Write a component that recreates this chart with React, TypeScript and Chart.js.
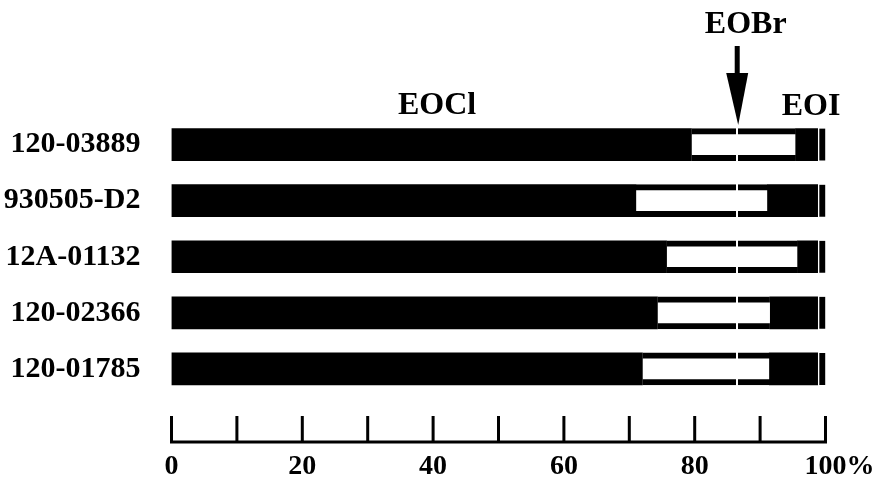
import React, { useEffect, useRef } from "react";
import { Chart, registerables } from "chart.js";

Chart.register(...registerables);

const categories = ["120-03889", "930505-D2", "12A-01132", "120-02366", "120-01785"];
const eoclValues = [79.5, 71.0, 75.7, 74.3, 72.0];
const eobrValues = [15.9, 20.1, 20.0, 17.2, 19.4];
const eoiValues = [3.4, 7.7, 3.1, 7.3, 7.4];
const restValues = [1.2, 1.2, 1.2, 1.2, 1.2];
const xTickValues = [0, 10, 20, 30, 40, 50, 60, 70, 80, 90, 100];
const xLabelValues = [0, 20, 40, 60, 80, 100];
const markerValue = 86.5;
const seriesLabels = ["EOCl", "EOBr", "EOI"];
const seriesLabelValues = [40.6, 87.8, 97.8];

const FONT = '"Liberation Serif", "Times New Roman", serif';

const overlayPlugin = {
  id: "overlay",
  afterDatasetsDraw(chart: any) {
    const ctx = chart.ctx;
    const xs = chart.scales.x;
    const area = chart.chartArea;
    ctx.save();
    // white marker line through bars
    const mx = xs.getPixelForValue(markerValue);
    ctx.fillStyle = "#fff";
    ctx.fillRect(Math.round(mx) - 1, area.top, 2, area.bottom - area.top);
    // arrow
    ctx.fillStyle = "#000";
    ctx.fillRect(mx - 2.5, 46, 5, 32);
    ctx.beginPath();
    ctx.moveTo(mx - 11, 73);
    ctx.lineTo(mx + 11, 73);
    ctx.lineTo(mx + 1, 125);
    ctx.closePath();
    ctx.fill();
    // series labels
    ctx.font = `bold 32px ${FONT}`;
    ctx.textAlign = "center";
    ctx.textBaseline = "alphabetic";
    ctx.fillText(seriesLabels[0], xs.getPixelForValue(seriesLabelValues[0]), 114);
    ctx.fillText(seriesLabels[1], xs.getPixelForValue(seriesLabelValues[1]), 33);
    ctx.fillText(seriesLabels[2], xs.getPixelForValue(seriesLabelValues[2]), 115);
    // axis line and ticks
    const axisY = 442;
    const x0 = xs.getPixelForValue(0);
    const x1 = xs.getPixelForValue(100);
    ctx.fillRect(x0 - 1.5, axisY - 1.5, x1 - x0 + 3, 3);
    xTickValues.forEach((v) => {
      const px = xs.getPixelForValue(v);
      ctx.fillRect(px - 1.5, 416, 3, axisY - 416);
    });
    ctx.restore();
  },
};

export default function App() {
  const ref = useRef<HTMLCanvasElement>(null);
  useEffect(() => {
    if (!ref.current) return;
    const chart = new Chart(ref.current, {
      type: "bar",
      data: {
        labels: categories,
        datasets: [
          {
            label: "EOCl",
            data: eoclValues,
            backgroundColor: "#000",
            borderWidth: 0,
            barThickness: 32,
          },
          {
            label: "EOBr",
            data: eobrValues,
            backgroundColor: "#fff",
            borderColor: "#000",
            borderWidth: { top: 6, bottom: 6, left: 0, right: 0 },
            borderSkipped: false,
            barThickness: 32,
          },
          {
            label: "EOI",
            data: eoiValues,
            backgroundColor: "#000",
            borderWidth: 0,
            barThickness: 32,
          },
          {
            label: "rest",
            data: restValues,
            backgroundColor: "#000",
            borderColor: "#fff",
            borderWidth: { left: 2, top: 0, bottom: 0, right: 0 },
            borderSkipped: false,
            barThickness: 32,
          },
        ] as any,
      },
      options: {
        indexAxis: "y",
        animation: false,
        responsive: false,
        layout: { padding: { top: 116.5, right: 52.5, bottom: 0, left: 0 } },
        plugins: { legend: { display: false }, tooltip: { enabled: false } },
        scales: {
          x: {
            stacked: true,
            min: 0,
            max: 100,
            border: { display: false },
            grid: { display: false, drawTicks: false },
            afterBuildTicks: (scale: any) => {
              scale.ticks = xLabelValues.map((v) => ({ value: v }));
            },
            afterFit: (scale: any) => {
              scale.height = 84;
              scale.paddingLeft = 0;
              scale.paddingRight = 0;
            },
            ticks: {
              autoSkip: false,
              maxRotation: 0,
              padding: 53,
              color: "#000",
              font: { family: FONT, size: 28, weight: "bold" },
              callback: (v: any) => (v === 100 ? "\u2002\u2002100%" : String(v)),
            },
          },
          y: {
            stacked: true,
            border: { display: false },
            grid: { display: false, drawTicks: false },
            afterFit: (scale: any) => {
              scale.width = 171.5;
              scale.paddingTop = 0;
              scale.paddingBottom = 0;
            },
            ticks: {
              padding: 31,
              color: "#000",
              font: { family: FONT, size: 30, weight: "bold" },
            },
          },
        },
      } as any,
      plugins: [overlayPlugin],
    });
    return () => chart.destroy();
  }, []);
  return (
    <div style={{ position: "fixed", left: 0, top: 0, width: 878, height: 481, background: "#fff" }}>
      <canvas ref={ref} width={878} height={481} style={{ display: "block" }} />
    </div>
  );
}
